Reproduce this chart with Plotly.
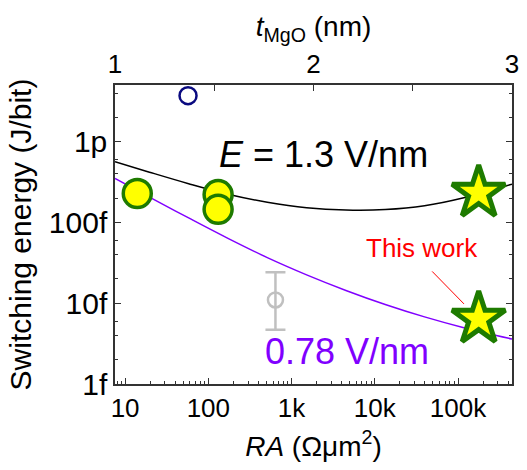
import numpy as np
import plotly.graph_objects as go

# ---- data ----
# E = 1.3 V/nm model curve (RA in Ohm um^2, energy in J)
black_ra = [7.56, 19.6, 58.0, 172, 511, 1516, 4497, 13340, 39580, 117400, 444800]
black_e = [5.68e-13, 4.21e-13, 3.03e-13, 2.245e-13, 1.786e-13, 1.527e-13, 1.429e-13,
           1.449e-13, 1.616e-13, 2.031e-13, 2.987e-13]
# E = 0.78 V/nm model curve
purple_ra = [7.56, 19.6, 58.0, 172, 511, 1516, 4497, 13340, 39580, 117400, 444800]
purple_e = [3.515e-13, 2.065e-13, 1.14e-13, 6.37e-14, 3.68e-14, 2.251e-14, 1.442e-14,
            9.66e-15, 6.78e-15, 4.98e-15, 3.606e-15]

circle_ra = [14, 131, 131]
circle_e = [2.29e-13, 2.22e-13, 1.46e-13]

star_ra = [177000, 177000]
star_e = [2.33e-13, 6.4e-15]

blue_ra = [57]
blue_e = [3.73e-12]

gray_ra = [640]
gray_e = [1.1e-14]
gray_hi = [2.43e-14]
gray_lo = [4.7e-15]

x_tickvals = [10, 100, 1000, 10000, 100000]
x_ticktext = ["10", "100", "1k", "10k", "100k"]
y_tickvals = [1e-15, 1e-14, 1e-13, 1e-12]
y_ticktext = ["1f", "10f", "100f", "1p"]
top_tickvals = [1, 2, 3]

FONT = "Liberation Sans, Arial, sans-serif"
GREEN = "#1e7b00"
PURPLE = "#8000ff"
AXC = "#333333"

fig = go.Figure()

fig.add_trace(go.Scatter(x=black_ra, y=black_e, mode="lines",
                         line=dict(color="black", width=1.5, shape="spline"), hoverinfo="skip"))
fig.add_trace(go.Scatter(x=purple_ra, y=purple_e, mode="lines",
                         line=dict(color=PURPLE, width=1.5, shape="spline"), hoverinfo="skip"))

fig.add_trace(go.Scatter(
    x=gray_ra, y=gray_e, mode="markers",
    marker=dict(symbol="circle-open", size=15, color="#c0c0c0", line=dict(width=2.5, color="#c0c0c0")),
    error_y=dict(type="data", symmetric=False,
                 array=[h - v for h, v in zip(gray_hi, gray_e)],
                 arrayminus=[v - l for l, v in zip(gray_lo, gray_e)],
                 color="#c0c0c0", thickness=2.5, width=10)))

fig.add_trace(go.Scatter(
    x=blue_ra, y=blue_e, mode="markers",
    marker=dict(symbol="circle", size=17, color="white", line=dict(width=2.5, color="#0a0a80"))))

fig.add_trace(go.Scatter(
    x=circle_ra, y=circle_e, mode="markers",
    marker=dict(symbol="circle", size=28, color="#ffff00", line=dict(width=3.5, color=GREEN))))

fig.add_trace(go.Scatter(
    x=star_ra, y=star_e, mode="markers",
    marker=dict(symbol="star", size=40, color="#ffff00", line=dict(width=5, color=GREEN))))

# invisible trace for the top axis
fig.add_trace(go.Scatter(x=top_tickvals, y=[1e-13] * 3, xaxis="x2", mode="markers",
                         marker=dict(opacity=0), hoverinfo="skip"))

axis_common = dict(showline=True, linecolor=AXC, linewidth=1.5, ticks="inside",
                   tickcolor=AXC, tickwidth=1.2, showgrid=False, zeroline=False)

fig.update_layout(
    width=527, height=470,
    margin=dict(l=115, r=8, t=85, b=86),
    paper_bgcolor="white", plot_bgcolor="white",
    showlegend=False,
    font=dict(family=FONT, color="black"),
    xaxis=dict(type="log", range=[np.log10(7.56), np.log10(444800)],
               tickvals=x_tickvals, ticktext=x_ticktext, ticklen=6,
               tickfont=dict(family=FONT, size=26, color="black"),
               minor=dict(ticks="inside", dtick="D1", ticklen=3, tickcolor=AXC),
               title=dict(text="<i>RA</i> (Ωμm<sup>2</sup>)", font=dict(family=FONT, size=28), standoff=14),
               **axis_common),
    xaxis2=dict(overlaying="x", side="top", range=[1, 3], tickvals=top_tickvals, ticklen=6,
                tickfont=dict(family=FONT, size=26, color="black"),
                minor=dict(ticks="inside", dtick=0.5, ticklen=6, tickcolor=AXC),
                title=dict(text="<i>t</i><sub>MgO</sub> (nm)", font=dict(family=FONT, size=28), standoff=4),
                **axis_common),
    yaxis=dict(type="log", range=[-15, -11.296], tickvals=y_tickvals, ticktext=y_ticktext,
               ticklen=6, mirror="ticks",
               tickfont=dict(family=FONT, size=30, color="black"),
               minor=dict(ticks="inside", tickvals=[2e-15, 4e-15, 6e-15, 2e-14, 4e-14, 6e-14,
                                                    2e-13, 4e-13, 6e-13, 2e-12, 4e-12],
                          ticklen=3, tickcolor=AXC),
               title=dict(text="Switching energy (J/bit)", font=dict(family=FONT, size=30), standoff=8),
               **axis_common),
)

fig.add_annotation(xref="paper", yref="paper", x=0.525, y=0.766, xanchor="center", yanchor="middle",
                   text="<i>E</i> = 1.3 V/nm", showarrow=False,
                   font=dict(family=FONT, size=36, color="black"))
fig.add_annotation(xref="paper", yref="paper", x=0.584, y=0.110, xanchor="center", yanchor="middle",
                   text="0.78 V/nm", showarrow=False,
                   font=dict(family=FONT, size=36, color=PURPLE))
fig.add_annotation(xref="paper", yref="paper", x=0.773, y=0.455, xanchor="center", yanchor="middle",
                   text="This work", showarrow=False,
                   font=dict(family=FONT, size=26, color="red"))
fig.add_annotation(x=np.log10(star_ra[1]), y=np.log10(star_e[1]), text="", showarrow=True,
                   arrowhead=0, arrowwidth=1, arrowcolor="red", ax=-48, ay=-49, standoff=21)

fig.write_html("out.html")
